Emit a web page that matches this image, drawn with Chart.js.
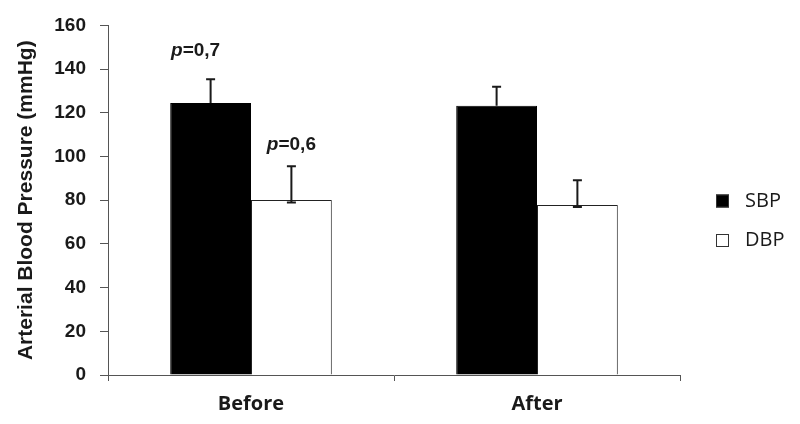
<!DOCTYPE html>
<html>
<head>
<meta charset="utf-8">
<script src="https://cdn.jsdelivr.net/npm/chart.js@4.4.0/dist/chart.umd.min.js"></script>
<style>
html,body{margin:0;padding:0;background:#fff;}
#wrap{width:800px;height:424px;}
</style>
</head>
<body>
<div id="wrap"><canvas id="c" width="800" height="424"></canvas></div>
<script>
// ---- data ----
const categories = ['Before', 'After'];
const seriesNames = ['SBP', 'DBP'];
const sbpValues = [124.5, 123.2];
const dbpValues = [80.1, 77.8];
const sbpErrPlus = [10.8, 8.7];
const dbpErrPlus = [15.4, 11.3];
const sbpErrMinus = [0, 0];
const dbpErrMinus = [1.1, 0.9];
const yTicks = [0, 20, 40, 60, 80, 100, 120, 140, 160];
const yTitle = 'Arterial Blood Pressure (mmHg)';
// p-value annotations: [datasetIndex, categoryIndex, value-level, text after "p"]
const pLabelText = ['=0,7', '=0,6'];
const pLabelDataset = [0, 1];
const pLabelCategory = [0, 0];
const pLabelLevel = [148.2, 105.2];

const errPlus = [sbpErrPlus, dbpErrPlus];
const errMinus = [sbpErrMinus, dbpErrMinus];

const bgPlugin = {
  id: 'bg',
  beforeDraw(chart) {
    const ctx = chart.ctx;
    ctx.save();
    ctx.fillStyle = '#fff';
    ctx.fillRect(0, 0, chart.width, chart.height);
    ctx.restore();
  }
};

const extrasPlugin = {
  id: 'extras',
  afterDatasetsDraw(chart) {
    const ctx = chart.ctx;
    const y = chart.scales.y;
    ctx.save();
    // error bars
    chart.data.datasets.forEach((ds, di) => {
      const meta = chart.getDatasetMeta(di);
      meta.data.forEach((bar, i) => {
        const v = ds.data[i];
        const top = y.getPixelForValue(v + errPlus[di][i]);
        const bot = y.getPixelForValue(v - errMinus[di][i]);
        const x = bar.x;
        ctx.strokeStyle = '#1a1a1a';
        ctx.lineWidth = 2;
        ctx.beginPath();
        ctx.moveTo(x, bot);
        ctx.lineTo(x, top);
        ctx.moveTo(x - 4.5, top);
        ctx.lineTo(x + 4.5, top);
        if (errMinus[di][i] > 0) {
          ctx.moveTo(x - 4.5, bot);
          ctx.lineTo(x + 4.5, bot);
        }
        ctx.stroke();
      });
    });
    // p labels
    const offsets = [-15, 0];
    pLabelText.forEach((t, k) => {
      const bar = chart.getDatasetMeta(pLabelDataset[k]).data[pLabelCategory[k]];
      const yy = y.getPixelForValue(pLabelLevel[k]);
      ctx.fillStyle = '#1a1a1a';
      ctx.textBaseline = 'middle';
      ctx.textAlign = 'left';
      ctx.font = 'italic bold 19px "Liberation Sans", Arial, sans-serif';
      const wp = ctx.measureText('p').width;
      ctx.font = 'bold 19px "Liberation Sans", Arial, sans-serif';
      const wt = ctx.measureText(t).width;
      const x0 = bar.x + offsets[k] - (wp + wt) / 2;
      ctx.font = 'italic bold 19px "Liberation Sans", Arial, sans-serif';
      ctx.fillText('p', x0, yy);
      ctx.font = 'bold 19px "Liberation Sans", Arial, sans-serif';
      ctx.fillText(t, x0 + wp, yy);
    });
    ctx.restore();
  },
  afterDraw(chart) {
    // legend
    const ctx = chart.ctx;
    ctx.save();
    const boxX = 716, textX = 745, startY = 201, gap = 39.5, box = 13;
    chart.data.datasets.forEach((ds, di) => {
      const cy = startY + di * gap;
      ctx.fillStyle = ds.backgroundColor;
      ctx.fillRect(boxX, cy - box / 2, box, box);
      ctx.strokeStyle = '#333';
      ctx.lineWidth = 1;
      ctx.strokeRect(boxX + 0.5, cy - box / 2 + 0.5, box - 1, box - 1);
      ctx.fillStyle = '#1a1a1a';
      ctx.font = '20px "Open Sans", sans-serif';
      ctx.textBaseline = 'middle';
      ctx.textAlign = 'left';
      ctx.fillText(ds.label, textX, cy);
    });
    ctx.restore();
  }
};

new Chart(document.getElementById('c'), {
  type: 'bar',
  data: {
    labels: categories,
    datasets: [
      { label: seriesNames[0], data: sbpValues, backgroundColor: '#000000', borderColor: '#000000', borderWidth: 1 },
      { label: seriesNames[1], data: dbpValues, backgroundColor: '#ffffff', borderColor: '#222222', borderWidth: 1 }
    ]
  },
  options: {
    responsive: false,
    animation: false,
    devicePixelRatio: 1,
    layout: { padding: { left: 0, top: 22, right: 120, bottom: 0 } },
    datasets: { bar: { categoryPercentage: 0.565, barPercentage: 1.0 } },
    plugins: { legend: { display: false }, tooltip: { enabled: false } },
    scales: {
      x: {
        grid: { offset: true, drawOnChartArea: false, drawTicks: true, tickLength: 6, color: '#555', lineWidth: 1 },
        border: { display: true, color: '#555', width: 1 },
        ticks: { color: '#1a1a1a', font: { family: '"Open Sans", sans-serif', size: 20, weight: 'bold' }, padding: 11 },
        afterFit(s) { s.height = 49; }
      },
      y: {
        min: 0, max: 160,
        afterBuildTicks(s) { s.ticks = yTicks.map(v => ({ value: v })); },
        grid: { drawOnChartArea: false, drawTicks: true, tickLength: 8, color: '#555', lineWidth: 1 },
        border: { display: true, color: '#555', width: 1 },
        ticks: { color: '#1a1a1a', font: { family: '"Liberation Sans", Arial, sans-serif', size: 19, weight: 'bold' }, padding: 14 },
        title: { display: true, text: yTitle, color: '#1a1a1a', font: { family: '"Liberation Sans", Arial, sans-serif', size: 21, weight: 'bold' }, padding: { top: 14, bottom: 0 } },
        afterFit(s) { s.width = 108; }
      }
    }
  },
  plugins: [bgPlugin, extrasPlugin]
});
</script>
</body>
</html>
